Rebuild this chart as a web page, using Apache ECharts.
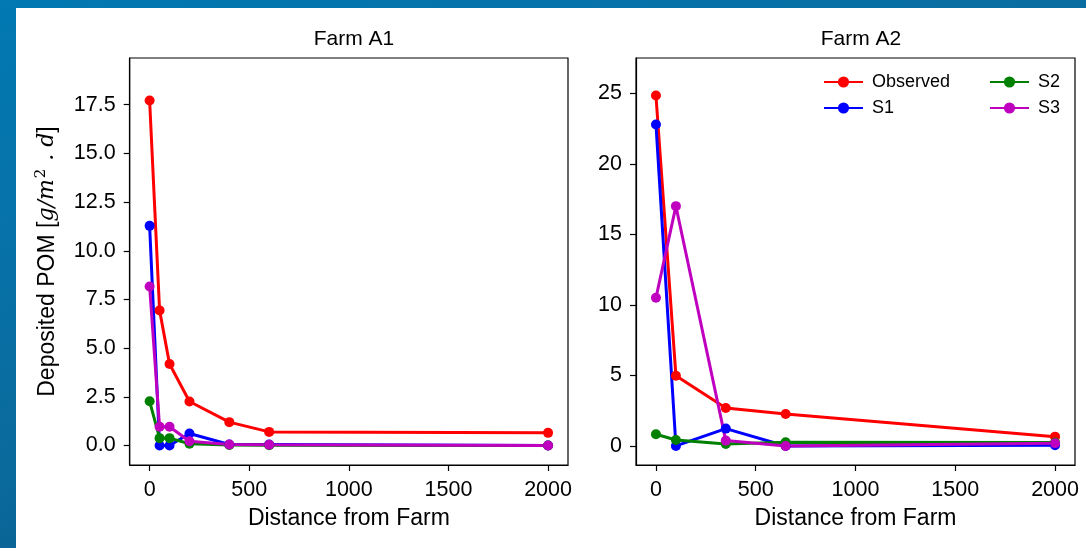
<!DOCTYPE html>
<html>
<head>
<meta charset="utf-8">
<script src="https://cdn.jsdelivr.net/npm/echarts@6/dist/echarts.min.js"></script>
<style>
  html, body { margin: 0; padding: 0; }
  body {
    width: 1086px; height: 548px; overflow: hidden; position: relative;
    background: linear-gradient(160deg, #0279b3 0%, #0a6c9f 45%, #0b4f7c 100%);
  }
  #paper { position: absolute; left: 16px; top: 8px; right: 0; bottom: 0; background: #fff; }
  #chart { position: absolute; left: 0; top: 0; width: 1086px; height: 548px; }
</style>
</head>
<body>
<div id="paper"></div>
<div id="chart"></div>
<script>
// Farm A1
var distA1 = [0, 50, 100, 200, 400, 600, 2000];
var obsA1 = [17.72, 6.94, 4.19, 2.26, 1.20, 0.70, 0.65];
var s1A1 = [11.28, 0.0, 0.0, 0.62, 0.05, 0.05, 0.0];
var s2A1 = [2.27, 0.38, 0.38, 0.09, 0.03, 0.02, 0.0];
var s3A1 = [8.17, 0.96, 0.96, 0.22, 0.05, 0.04, 0.0];

// Farm A2
var distA2 = [0, 100, 350, 650, 2000];
var obsA2 = [24.84, 4.98, 2.69, 2.26, 0.66];
var s1A2 = [22.79, 0.0, 1.23, 0.0, 0.05];
var s2A2 = [0.83, 0.42, 0.14, 0.26, 0.25];
var s3A2 = [10.5, 17.0, 0.38, 0.0, 0.19];

var xTicks = [0, 500, 1000, 1500, 2000];
var yTicksA1 = [0, 2.5, 5, 7.5, 10, 12.5, 15, 17.5];
var yTicksA2 = [0, 5, 10, 15, 20, 25];

var seriesNames = ['Observed', 'S1', 'S2', 'S3'];
var colors = ['#ff0000', '#0000ff', '#008000', '#bf00bf'];

var font = '"Liberation Sans", Arial, sans-serif';

function pairs(xs, ys) {
    var out = [];
    for (var i = 0; i < xs.length; i++) {
        out.push([xs[i], ys[i]]);
    }
    return out;
}

function makeSeries(idx, xs, ys, name, color) {
    return {
        type: 'line',
        name: name,
        xAxisIndex: idx,
        yAxisIndex: idx,
        data: pairs(xs, ys),
        symbol: 'circle',
        symbolSize: 10,
        showSymbol: true,
        color: color,
        lineStyle: { width: 3, color: color },
        itemStyle: { color: color },
        emphasis: { disabled: true }
    };
}

function xAxis(idx) {
    return {
        type: 'value',
        gridIndex: idx,
        min: -100,
        max: 2100,
        name: 'Distance from Farm',
        nameLocation: 'middle',
        nameGap: 42,
        nameTextStyle: { fontFamily: font, fontSize: 23, color: '#000' },
        splitLine: { show: false },
        axisLine: { show: true, onZero: false, lineStyle: { color: '#000', width: 1.2 } },
        axisTick: { show: true, customValues: xTicks, length: 6, lineStyle: { color: '#000', width: 1.2 } },
        axisLabel: {
            customValues: xTicks, margin: 14, fontFamily: font, fontSize: 21.5, color: '#000',
            formatter: function (v) { return String(v); }
        }
    };
}

function yAxis(idx, min, max, ticks, decimals) {
    return {
        type: 'value',
        gridIndex: idx,
        min: min,
        max: max,
        splitLine: { show: false },
        axisLine: { show: true, onZero: false, lineStyle: { color: '#000', width: 1.2 } },
        axisTick: { show: true, customValues: ticks, length: 6, lineStyle: { color: '#000', width: 1.2 } },
        axisLabel: {
            customValues: ticks,
            margin: 14,
            fontFamily: font,
            fontSize: 21.5,
            color: '#000',
            formatter: function (v) { return v.toFixed(decimals); }
        }
    };
}

var series = [];
var a1 = [obsA1, s1A1, s2A1, s3A1];
var a2 = [obsA2, s1A2, s2A2, s3A2];
for (var k = 0; k < seriesNames.length; k++) {
    series.push(makeSeries(0, distA1, a1[k], seriesNames[k], colors[k]));
}
for (var k = 0; k < seriesNames.length; k++) {
    series.push(makeSeries(1, distA2, a2[k], seriesNames[k], colors[k]));
}

var yA1 = yAxis(0, -1, 19.9, yTicksA1, 1);
yA1.name = '{n|Deposited POM [}{m|g/m}{s|2}{m| . d}{n|]}';
yA1.nameLocation = 'middle';
yA1.nameRotate = 90;
yA1.nameGap = 71;
yA1.nameTextStyle = {
    color: '#000',
    rich: {
        n: { fontFamily: font, fontSize: 23, color: '#000', verticalAlign: 'bottom', lineHeight: 27 },
        m: { fontFamily: '"DejaVu Serif", serif', fontStyle: 'italic', fontSize: 22, color: '#000', verticalAlign: 'bottom', lineHeight: 27 },
        s: { fontFamily: '"DejaVu Serif", serif', fontSize: 15, color: '#000', verticalAlign: 'bottom', lineHeight: 15, padding: [0, 1, 10, 1] }
    }
};

var legendCommon = {
    orient: 'vertical',
    top: 68,
    itemWidth: 39,
    itemHeight: 14,
    itemGap: 8,
    textStyle: { fontFamily: font, fontSize: 18, color: '#000', padding: [0, 0, 0, 4] },
    selectedMode: false
};

var option = {
    animation: false,
    title: [
        { text: 'Farm A1', left: 349, top: 24, textAlign: 'center',
          textStyle: { fontFamily: font, fontSize: 21, fontWeight: 'normal', color: '#000' } },
        { text: 'Farm A2', left: 856, top: 24, textAlign: 'center',
          textStyle: { fontFamily: font, fontSize: 21, fontWeight: 'normal', color: '#000' } }
    ],
    legend: [
        Object.assign({ left: 818, data: ['Observed', 'S1'] }, legendCommon),
        Object.assign({ left: 984, data: ['S2', 'S3'] }, legendCommon)
    ],
    grid: [
        { left: 129.7, top: 58, width: 438.3, height: 407, show: true, borderColor: '#000', borderWidth: 1.2,
          containLabel: false, outerBoundsMode: 'none' },
        { left: 636, top: 58, width: 439, height: 407, show: true, borderColor: '#000', borderWidth: 1.2,
          containLabel: false, outerBoundsMode: 'none' }
    ],
    xAxis: [xAxis(0), xAxis(1)],
    yAxis: [yA1, yAxis(1, -1.35, 27.5, yTicksA2, 0)],
    series: series
};

var chart = echarts.init(document.getElementById('chart'), null, { renderer: 'canvas' });
chart.setOption(option);
</script>
</body>
</html>
